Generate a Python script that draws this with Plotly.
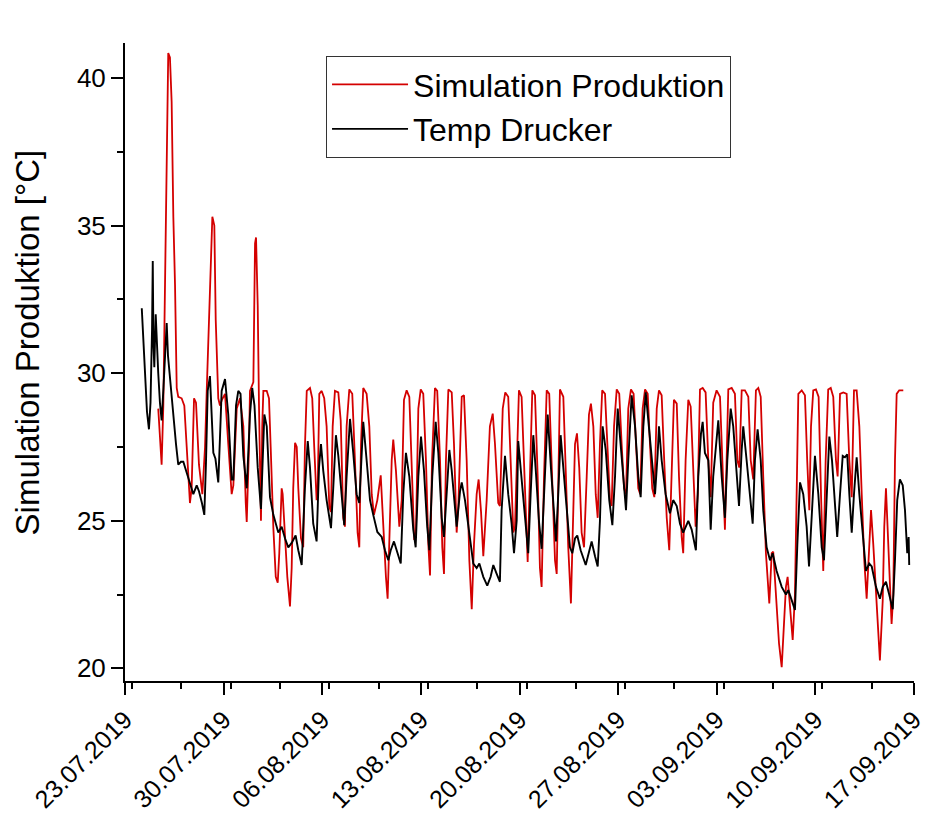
import pandas as pd
import plotly.graph_objects as go

# time axis: days after 23.07.2019 00:00
sim_days = [2.36, 2.60, 2.72, 2.84, 2.96, 3.07, 3.19, 3.31, 3.43, 3.55, 3.67, 3.78, 4.02, 4.21, 4.38, 4.61, 4.73, 4.90, 5.04, 5.25,
            5.49, 5.68, 5.80, 6.03, 6.20, 6.34, 6.44, 6.62, 6.74, 6.88, 7.10, 7.33, 7.57, 7.69, 7.93, 8.16, 8.40, 8.57, 8.64, 8.80,
            8.87, 9.11, 9.23, 9.30, 9.42, 9.51, 9.58, 9.65, 9.74, 9.82, 10.06, 10.22, 10.34, 10.53, 10.70, 10.84, 10.95, 11.12, 11.19, 11.36,
            11.52, 11.71, 11.83, 11.94, 12.07, 12.19, 12.30, 12.49, 12.65, 12.77, 12.90, 13.13, 13.29, 13.43, 13.60, 13.68, 13.79, 13.96, 14.14, 14.31,
            14.50, 14.62, 14.74, 14.90, 15.14, 15.31, 15.49, 15.61, 15.73, 15.92, 16.13, 16.32, 16.51, 16.63, 16.75, 16.91, 17.15, 17.34, 17.51, 17.67,
            17.91, 18.15, 18.33, 18.52, 18.64, 18.76, 18.93, 19.04, 19.23, 19.47, 19.64, 19.80, 19.99, 20.18, 20.35, 20.53, 20.65, 20.82, 20.99, 21.17,
            21.36, 21.53, 21.65, 21.79, 22.00, 22.16, 22.36, 22.52, 22.64, 22.78, 22.95, 23.19, 23.35, 23.54, 23.66, 23.90, 24.06, 24.25, 24.44, 24.61,
            24.77, 24.96, 25.10, 25.27, 25.43, 25.67, 25.90, 26.10, 26.26, 26.49, 26.61, 26.81, 26.99, 27.20, 27.37, 27.56, 27.68, 27.86, 27.96, 28.15,
            28.39, 28.58, 28.74, 28.91, 29.10, 29.29, 29.45, 29.57, 29.74, 29.93, 30.11, 30.33, 30.52, 30.64, 30.75, 30.87, 31.11, 31.28, 31.46, 31.65,
            31.82, 31.94, 32.08, 32.24, 32.41, 32.58, 32.77, 32.93, 33.07, 33.24, 33.41, 33.55, 33.71, 33.87, 34.07, 34.26, 34.42, 34.54, 34.71, 34.90,
            35.08, 35.25, 35.42, 35.56, 35.72, 35.91, 36.10, 36.27, 36.43, 36.57, 36.74, 36.91, 37.10, 37.26, 37.42, 37.57, 37.74, 37.90, 38.09, 38.27,
            38.45, 38.63, 38.80, 38.96, 39.16, 39.32, 39.51, 39.62, 39.79, 39.98, 40.15, 40.33, 40.50, 40.65, 40.81, 41.00, 41.21, 41.40, 41.57, 41.75,
            41.99, 42.23, 42.42, 42.58, 42.70, 42.82, 43.06, 43.29, 43.46, 43.60, 43.77, 44.00, 44.24, 44.41, 44.59, 44.78, 44.95, 45.12, 45.30, 45.49,
            45.73, 45.90, 46.01, 46.20, 46.42, 46.61, 46.77, 46.91, 47.03, 47.20, 47.39, 47.55, 47.67, 47.79, 48.03, 48.26, 48.42, 48.57, 48.69, 48.85,
            49.04, 49.23, 49.40, 49.56, 49.73, 49.91, 50.09, 50.27, 50.46, 50.58, 50.75, 50.98, 51.22, 51.41, 51.58, 51.74, 51.93, 52.12, 52.29, 52.47,
            52.64, 52.82, 52.95, 53.11, 53.35, 53.58, 53.78, 53.89, 54.01, 54.17, 54.41, 54.53, 54.65, 54.77, 54.95, 55.24]
sim_vals = [28.8, 26.9, 28.9, 32.6, 37.5, 40.85, 40.7, 39.2, 35.3, 33.0, 29.5, 29.2, 29.15, 28.9, 27.5, 25.6, 26.1, 29.15, 29.0, 26.9,
            25.9, 27.5, 29.4, 33.0, 35.3, 35.0, 31.8, 29.15, 28.9, 29.1, 29.3, 27.6, 25.9, 26.2, 28.8, 29.15, 28.2, 25.6, 24.96, 27.5,
            29.4, 29.7, 34.4, 34.6, 32.3, 28.9, 26.1, 25.0, 28.2, 29.4, 29.4, 29.15, 27.5, 24.75, 23.1, 22.9, 23.9, 26.1, 25.9, 24.4,
            23.1, 22.1, 23.4, 26.1, 27.64, 27.5, 26.1, 24.4, 24.1, 27.5, 29.4, 29.5, 29.15, 27.5, 25.7, 26.1, 29.3, 29.4, 29.15, 28.2,
            25.47, 25.3, 28.2, 29.4, 29.35, 28.4, 25.1, 24.8, 28.2, 29.45, 29.3, 27.05, 24.6, 24.1, 27.6, 29.5, 29.3, 28.2, 25.9, 25.2,
            25.7, 26.54, 24.8, 23.1, 22.36, 24.2, 27.05, 27.75, 26.7, 24.8, 25.7, 29.1, 29.42, 29.2, 27.05, 24.35, 24.6, 28.8, 29.45, 29.3,
            27.05, 24.2, 23.15, 27.05, 29.5, 29.4, 27.05, 24.1, 23.2, 27.05, 29.45, 29.35, 27.6, 24.6, 25.5, 29.2, 29.25, 27.05, 23.66, 22.0,
            24.2, 25.9, 26.4, 25.3, 23.8, 25.7, 28.2, 28.63, 27.6, 25.6, 25.5, 28.8, 29.35, 29.2, 27.05, 24.6, 24.8, 28.2, 29.42, 29.2,
            25.9, 23.6, 26.5, 29.42, 29.25, 26.5, 23.4, 22.76, 26.5, 29.42, 29.3, 26.5, 23.66, 23.2, 26.5, 29.45, 29.2, 26.7, 24.1, 22.2,
            25.36, 27.6, 27.96, 26.8, 24.6, 24.1, 26.5, 28.6, 28.97, 28.2, 25.9, 25.1, 27.6, 29.42, 29.3, 27.05, 25.7, 25.5, 28.2, 29.45,
            29.3, 27.6, 26.1, 25.9, 28.8, 29.45, 29.3, 27.6, 26.1, 25.9, 28.8, 29.45, 29.3, 27.6, 26.1, 25.8, 28.8, 29.42, 29.25, 27.05,
            25.1, 24.0, 27.05, 29.1, 28.97, 26.5, 24.45, 23.9, 27.05, 29.1, 28.87, 26.5, 24.8, 25.9, 29.45, 29.5, 29.35, 27.05, 25.8, 29.0,
            29.42, 29.2, 27.05, 24.7, 27.05, 29.45, 29.5, 29.3, 27.05, 26.8, 29.42, 29.42, 29.2, 27.05, 26.4, 29.42, 29.5, 29.2, 26.5, 23.9,
            22.2, 23.9, 23.95, 22.5, 20.84, 20.04, 21.4, 22.76, 23.1, 21.98, 20.96, 22.5, 25.9, 29.3, 29.42, 29.25, 27.05, 25.36, 28.2, 29.42,
            29.45, 29.2, 25.9, 23.3, 27.05, 29.45, 29.5, 29.2, 27.05, 26.5, 29.3, 29.35, 29.3, 27.05, 25.8, 29.42, 29.42, 28.2, 25.9, 23.66,
            22.36, 24.2, 25.36, 24.2, 21.98, 20.27, 22.3, 24.8, 26.1, 24.2, 21.5, 22.5, 27.05, 29.3, 29.42, 29.42]

temp_days = [1.19, 1.35, 1.56, 1.70, 1.81, 1.92, 1.97, 2.02, 2.08, 2.18, 2.27, 2.36, 2.48, 2.60, 2.73, 2.84, 2.96, 3.05, 3.19, 3.31,
             3.48, 3.62, 3.78, 3.97, 4.14, 4.33, 4.61, 4.85, 5.09, 5.25, 5.46, 5.63, 5.75, 5.87, 6.03, 6.17, 6.27, 6.42, 6.62, 6.74,
             6.86, 7.10, 7.33, 7.57, 7.69, 7.88, 8.04, 8.20, 8.40, 8.64, 8.87, 9.03, 9.19, 9.42, 9.65, 9.89, 10.06, 10.29, 10.53, 10.88,
             11.12, 11.36, 11.59, 11.83, 12.11, 12.30, 12.54, 12.77, 12.97, 13.13, 13.36, 13.60, 13.77, 13.91, 14.07, 14.31, 14.62, 14.78, 14.97, 15.14,
             15.38, 15.56, 15.73, 15.97, 16.20, 16.44, 16.63, 16.80, 16.91, 17.15, 17.39, 17.62, 17.91, 18.22, 18.45, 18.69, 18.86, 19.09, 19.33, 19.57,
             19.75, 19.94, 20.18, 20.46, 20.63, 20.82, 21.01, 21.22, 21.45, 21.60, 21.81, 22.05, 22.24, 22.48, 22.64, 22.83, 23.02, 23.19, 23.54, 23.78,
             23.90, 24.13, 24.36, 24.72, 24.96, 25.15, 25.43, 25.71, 25.95, 26.14, 26.38, 26.61, 26.73, 26.97, 27.20, 27.44, 27.61, 27.80, 27.91, 28.15,
             28.39, 28.62, 28.79, 28.98, 29.17, 29.38, 29.57, 29.81, 30.00, 30.23, 30.47, 30.59, 30.75, 30.92, 31.11, 31.35, 31.58, 31.75, 31.94, 32.10,
             32.34, 32.70, 32.93, 33.12, 33.36, 33.55, 33.71, 33.90, 34.12, 34.37, 34.59, 34.78, 34.97, 35.20, 35.44, 35.56, 35.72, 35.96, 36.20, 36.43,
             36.60, 36.79, 36.96, 37.14, 37.38, 37.62, 37.81, 37.90, 38.09, 38.37, 38.68, 38.91, 39.16, 39.39, 39.62, 39.98, 40.22, 40.52, 40.69, 40.88,
             41.00, 41.16, 41.40, 41.57, 41.75, 42.11, 42.35, 42.58, 42.75, 42.99, 43.17, 43.41, 43.58, 43.77, 43.88, 44.12, 44.36, 44.55, 44.71, 44.90,
             45.12, 45.30, 45.54, 45.78, 45.97, 46.25, 46.61, 46.91, 47.08, 47.32, 47.55, 47.72, 47.91, 48.14, 48.38, 48.55, 48.74, 48.97, 49.21, 49.45,
             49.61, 49.80, 49.99, 50.18, 50.39, 50.55, 50.75, 50.94, 51.10, 51.26, 51.41, 51.58, 51.74, 51.93, 52.12, 52.36, 52.59, 52.82, 53.00, 53.30,
             53.58, 53.78, 54.01, 54.24, 54.49, 54.65, 54.81, 55.00, 55.20, 55.36, 55.52, 55.62, 55.66]
temp_vals = [32.2, 30.5, 28.7, 28.1, 29.0, 31.5, 33.8, 31.0, 30.2, 32.0, 30.8, 30.0, 29.0, 28.4, 29.5, 30.5, 31.7, 30.6, 29.8, 29.2,
             28.3, 27.6, 26.9, 27.0, 27.0, 26.7, 26.2, 25.9, 26.2, 26.0, 25.6, 25.2, 27.0, 29.4, 29.9, 28.5, 27.3, 27.1, 26.3, 27.8,
             29.4, 29.8, 28.6, 26.4, 26.4, 28.9, 29.4, 29.3, 27.2, 26.1, 28.6, 29.5, 28.9, 26.8, 25.4, 28.6, 28.2, 25.8, 25.2, 24.6,
             24.8, 24.4, 24.1, 24.25, 24.5, 24.0, 23.5, 26.1, 27.7, 26.8, 24.9, 24.3, 26.8, 27.6, 26.7, 25.7, 24.75, 26.1, 27.9, 27.2,
             25.7, 24.85, 26.5, 28.45, 27.3, 25.9, 25.6, 27.05, 28.35, 27.05, 25.7, 25.2, 24.62, 24.45, 24.0, 23.66, 24.0, 24.3, 23.9, 23.55,
             25.9, 27.3, 26.5, 24.7, 24.1, 26.5, 27.85, 26.7, 24.8, 24.0, 26.5, 28.35, 27.3, 25.1, 24.45, 26.1, 27.4, 26.7, 24.8, 26.0,
             26.3, 25.7, 24.8, 23.55, 23.4, 23.55, 23.1, 22.8, 23.1, 23.5, 23.2, 22.93, 25.36, 27.2, 25.9, 24.9, 23.9, 25.0, 27.7, 26.4,
             25.0, 23.9, 25.9, 27.9, 26.6, 25.0, 24.05, 26.5, 28.6, 26.8, 25.0, 24.3, 25.9, 27.9, 26.8, 25.36, 24.1, 23.9, 24.4, 24.5,
             24.0, 23.5, 24.0, 24.3, 23.8, 23.45, 25.0, 28.2, 27.4, 25.7, 24.85, 26.5, 28.8, 27.4, 26.0, 25.36, 27.05, 29.25, 28.2, 26.5,
             25.8, 28.2, 29.35, 28.4, 27.2, 25.9, 27.3, 28.2, 27.05, 25.9, 25.25, 25.7, 25.5, 24.9, 24.6, 25.0, 24.7, 24.0, 26.5, 27.95,
             28.35, 27.3, 27.05, 24.7, 26.5, 28.4, 26.5, 25.1, 27.05, 28.8, 28.2, 26.7, 25.5, 27.4, 28.2, 27.05, 25.9, 24.9, 27.05, 28.1,
             27.05, 25.36, 24.1, 23.66, 23.9, 23.3, 22.76, 22.5, 22.65, 22.3, 21.98, 24.2, 26.3, 25.9, 24.8, 23.45, 25.36, 27.2, 25.9, 24.1,
             23.66, 25.9, 27.85, 27.05, 25.36, 24.45, 25.9, 27.2, 27.15, 27.25, 25.9, 24.6, 25.9, 27.15, 25.9, 24.6, 23.3, 23.55, 23.45, 22.76,
             22.36, 22.76, 22.93, 22.5, 22.0, 23.66, 25.7, 26.4, 26.2, 25.36, 23.9, 24.45, 23.5]

start = pd.Timestamp("2019-07-23")
end = pd.Timestamp("2019-09-17")
sim_t = start + pd.to_timedelta(sim_days, unit="D")
temp_t = start + pd.to_timedelta(temp_days, unit="D")

FONT = "Liberation Sans, Arial, sans-serif"
DAY_MS = 86400000

fig = go.Figure()
fig.add_trace(go.Scatter(x=sim_t, y=sim_vals, mode="lines", name="Simulation Produktion",
                         line=dict(color="#d40000", width=1.8)))
fig.add_trace(go.Scatter(x=temp_t, y=temp_vals, mode="lines", name="Temp Drucker",
                         line=dict(color="#000000", width=1.9)))

fig.update_layout(
    width=924, height=812, autosize=False,
    margin=dict(l=117, r=18, t=35, b=139, autoexpand=False),
    paper_bgcolor="white", plot_bgcolor="white",
    font=dict(family=FONT, color="black"),
    showlegend=True,
    legend=dict(x=0.2548, y=0.9796, xanchor="left", yanchor="top",
                bordercolor="#333333", borderwidth=1, bgcolor="white",
                font=dict(size=32, family=FONT, color="black"), itemwidth=76,
                tracegroupgap=0),
    xaxis=dict(type="date", range=[start, end], automargin=False,
               tick0="2019-07-23", dtick=7 * DAY_MS, tickformat="%d.%m.%Y",
               tickangle=-45, tickfont=dict(size=25, family=FONT, color="black"),
               showline=True, linecolor="black", linewidth=2,
               ticks="outside", ticklen=12, tickwidth=2, tickcolor="black",
               minor=dict(dtick=3.5 * DAY_MS, ticks="outside", ticklen=6, tickwidth=2, tickcolor="black"),
               showgrid=False, zeroline=False, mirror=False),
    yaxis=dict(range=[19.57, 41.19], automargin=False, tick0=20, dtick=5,
               tickfont=dict(size=26, family=FONT, color="black"),
               showline=True, linecolor="black", linewidth=2,
               ticks="outside", ticklen=12, tickwidth=2, tickcolor="black",
               minor=dict(dtick=2.5, ticks="outside", ticklen=6, tickwidth=2, tickcolor="black"),
               showgrid=False, zeroline=False, mirror=False),
    annotations=[dict(text="Simulation Produktion [°C]", xref="paper", yref="paper",
                      x=-0.124, y=0.531, xanchor="center", yanchor="middle",
                      textangle=-90, showarrow=False,
                      font=dict(size=33, family=FONT, color="black"))],
)

fig.write_html("out.html")
